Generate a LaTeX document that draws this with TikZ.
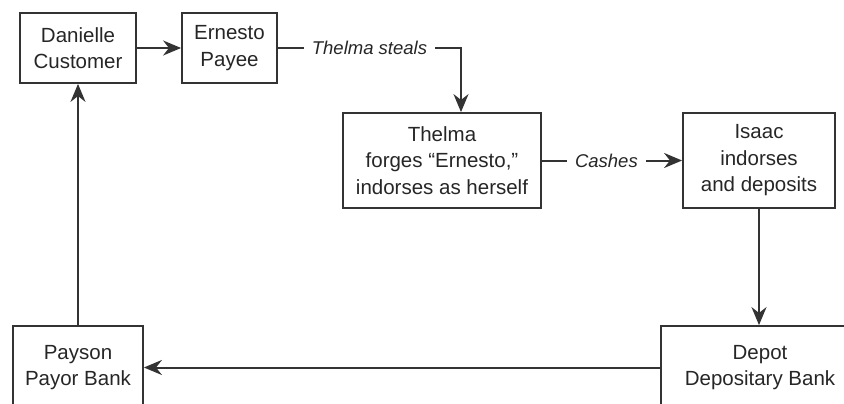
\documentclass[tikz,border=0pt]{standalone}
\usepackage{fontspec}
\setmainfont{Liberation Sans}
\usepackage{tikz}
\usetikzlibrary{arrows.meta}

\begin{document}
\begin{tikzpicture}[x=1pt, y=-1pt,
    box/.style={draw=black!80, line width=1.8pt, align=center, inner sep=0pt,
      text=black!85, font=\fontsize{20.5}{26.5}\selectfont},
    lbl/.style={fill=white, inner xsep=8pt, text=black!85,
      font=\fontsize{18.5}{20}\selectfont\itshape},
    conn/.style={draw=black!80, line width=2pt,
      -{Stealth[length=18pt, width=15pt]}}]
      \useasboundingbox (0, 0) rectangle (844, 404);
      \clip (0, 0) rectangle (844, 404);

      \node[box, minimum width=116, minimum height=70] (danielle) at (78, 48) {Danielle\\Customer};
      \node[box, minimum width=95, minimum height=70] (ernesto) at (229.5, 48) {Ernesto\\Payee};
      \node[box, minimum width=198, minimum height=95] (thelma) at (442, 160.5) {Thelma\\forges ``Ernesto,''\\indorses as herself};
      \node[box, minimum width=152, minimum height=95] (isaac) at (759, 160.5) {Isaac\\indorses\\and deposits};
      \node[box, minimum width=130, minimum height=83] (payson) at (78, 367.5) {Payson\\Payor Bank};
      \node[box, minimum width=198, minimum height=83] (depot) at (760, 367.5) {Depot\\Depositary Bank};

      \coordinate (turn) at (461, 48);

      \draw[conn] (danielle) -- (ernesto);
      \draw[conn] (ernesto.east) -- node[lbl] {Thelma steals} (turn) -- (turn |- thelma.north);
      \draw[conn] (thelma) -- node[lbl, pos=0.46] {Cashes} (isaac);
      \draw[conn] (isaac.south) -- (isaac.south |- depot.north);
      \draw[conn] (depot) -- (payson);
      \draw[conn] (payson) -- (danielle);
\end{tikzpicture}
\end{document}
